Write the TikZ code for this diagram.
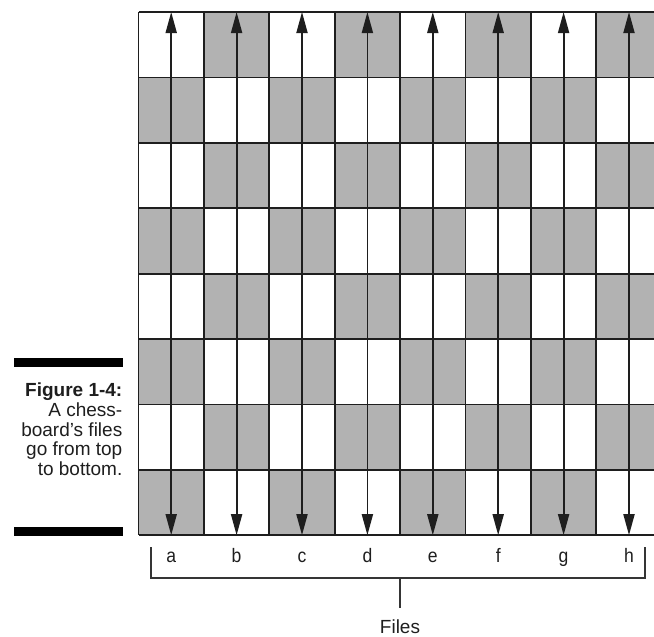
\documentclass[tikz,border=0pt]{standalone}
\usepackage{fontspec}
\setmainfont{Liberation Sans}
\newfontfamily\narrowfont[FakeStretch=0.9]{Liberation Sans}
\usetikzlibrary{arrows.meta}
\definecolor{sqgray}{RGB}{178,178,178}
\definecolor{ink}{RGB}{30,30,30}
\begin{document}
\begin{tikzpicture}[x=1pt,y=-1pt,
  gridline/.style={line width=1.8pt,draw=ink},
  filearrow/.style={line width=1.8pt,draw=ink,{Triangle[length=21pt,width=11pt]}-{Triangle[length=21pt,width=11pt]}},
  filelabel/.style={font=\narrowfont\fontsize{19.5}{20}\selectfont,anchor=base,inner sep=0pt,text=ink},
  bracketline/.style={line width=1.2pt,draw=ink!90},
  capbar/.style={fill=black},
  captext/.style={font=\fontsize{19}{19.6}\selectfont,align=right,inner sep=0pt,text=ink}]
\useasboundingbox (0,0) rectangle (654,637);
\def\bx{138.5}\def\by{12}\def\sq{65.4}
% squares
\foreach \c in {0,...,7}{
  \foreach \r in {0,...,7}{
    \pgfmathtruncatemacro\odd{mod(\c+\r,2)}
    \ifnum\odd=1
      \fill[sqgray] (\bx+\c*\sq,\by+\r*\sq) rectangle ++(\sq,\sq);
    \fi
  }
}
% grid
\foreach \i in {0,...,8}{
  \draw[gridline] (\bx+\i*\sq,\by) -- ++(0,8*\sq);
  \draw[gridline] (\bx,\by+\i*\sq) -- ++(8*\sq,0);
}
% file arrows and labels
\foreach \i/\l in {0/a,1/b,2/c,3/d,4/e,5/f,6/g,7/h}{
  \coordinate (t\l) at (\bx+\i*\sq+\sq/2,\by);
  \coordinate (b\l) at (\bx+\i*\sq+\sq/2,\by+8*\sq);
  \draw[filearrow] (b\l) -- (t\l);
  \node[filelabel] (lab\l) at (\bx+\i*\sq+\sq/2,562) {\l};
}
% bracket
\coordinate (brL) at (151,547);
\coordinate (brLB) at (151,578);
\coordinate (brRB) at (645,578);
\coordinate (brR) at (645,547);
\draw[bracketline] (brL) -- (brLB) -- (brRB) -- (brR);
\coordinate (stemtop) at (400,578);
\coordinate (stembot) at (400,608);
\draw[bracketline] (stemtop) -- (stembot);
\node[filelabel,font=\fontsize{19}{20}\selectfont] (files) at (400,633) {Files};
% caption
\fill[capbar] (14,358) rectangle (123,367);
\fill[capbar] (14,527) rectangle (123,535.5);
\node[captext,anchor=north east] (caption) at (122.5,383)
  {\textbf{Figure 1-4:}\\A chess-\\board’s files\\go from top\\to bottom.};
\end{tikzpicture}
\end{document}
